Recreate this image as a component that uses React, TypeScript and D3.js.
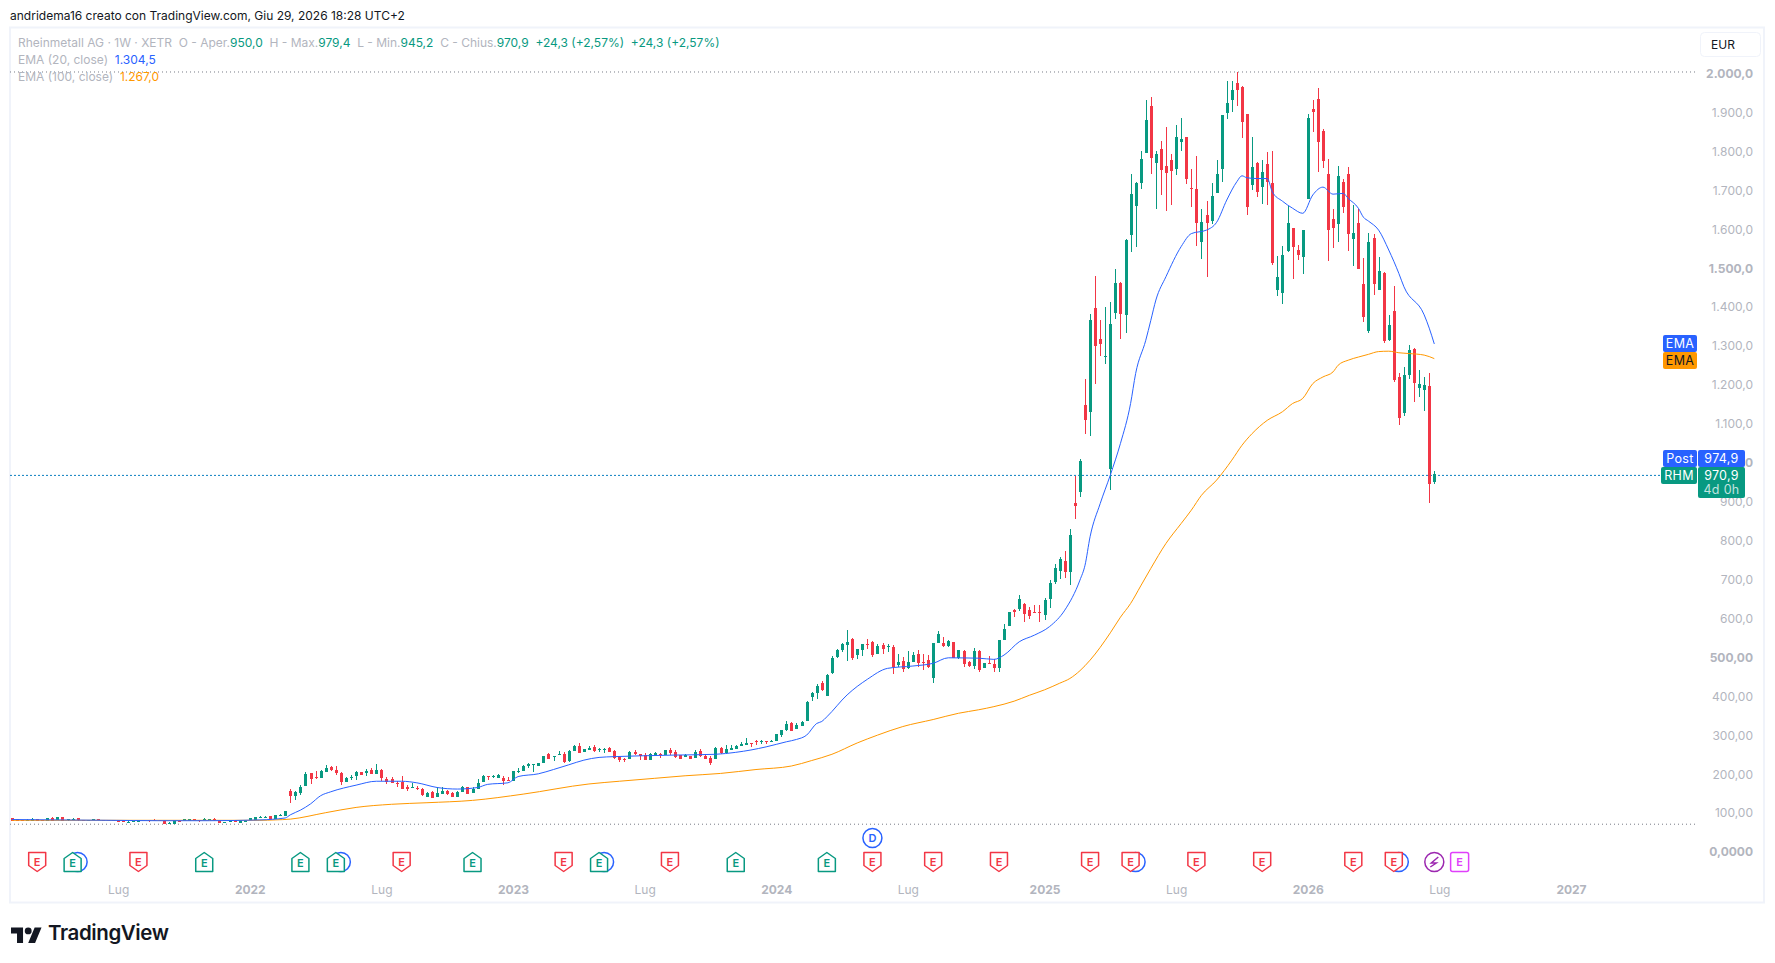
import React, { useEffect, useRef } from 'react';
import * as d3 from 'd3';

// weekly bars, week 1 is the first one visible, week 282 is the live one
const opens = [
  90, 88, 86, 84, 84, 87.5, 86, 84, 90, 86,
  92.6, 85.8, 85.8, 90, 86.6, 84, 85.8, 87.5, 86.6, 85.8,
  85, 85, 84, 79.8, 80.7, 80.7, 85.8, 85.8, 86.6, 86.6,
  84, 76.4, 76.4, 84, 84, 84, 87.5, 86.6, 85, 85.8,
  88.4, 85.8, 79, 81.5, 85, 79, 79.8, 85, 85, 91,
  91, 96, 89, 96, 96, 160, 147.2, 154.9, 172.8, 206,
  195, 193.3, 208.7, 221.5, 213.8, 206, 183, 194.2, 198.4, 208.7,
  206, 213.8, 203.6, 213.8, 190.8, 190.8, 180.5, 183, 170.3, 168.6,
  167.7, 165.2, 144.7, 157.5, 144.7, 152.3, 160, 154.9, 144.7, 157.5,
  170.3, 154.9, 165.2, 183, 198.4, 196.7, 193.3, 193.3, 188, 185.6,
  208.7, 211, 224, 227.4, 224, 231.7, 254.8, 247, 253, 254.8,
  236.8, 262.4, 275.2, 259.9, 265, 272.7, 265.9, 265.9, 270, 262.4,
  247, 242, 242, 259.9, 254.8, 252, 239.4, 249.6, 254.8, 252,
  265, 259.9, 252, 248, 250.5, 244.5, 262.4, 250.5, 245.4, 242,
  271, 257.3, 265, 267.5, 275, 277.8, 283, 288, 284.6, 288,
  286, 288, 303.4, 316, 333.3, 319.6, 326.4, 340, 400.6, 410.9,
  436.5, 403, 462, 503, 521, 533.8, 549, 508, 521, 536,
  541.5, 510.7, 533.8, 529.5, 528.7, 481.7, 492.8, 474, 490.3, 510.7,
  489.4, 495.4, 449.3, 538.9, 539, 531, 541.5, 499.6, 519, 491,
  480, 519, 475, 487.7, 485, 474, 546.6, 582.4, 623.4, 625,
  638.8, 623.4, 618, 619, 610.6, 650.7, 694.7, 723, 748.5, 720,
  897, 925, 1148, 1130, 1396.6, 1317, 1271, 984, 1383.8, 1460.6,
  1378.6, 1583.5, 1657.7, 1716.6, 1793.4, 1913.7, 1767.8, 1803.6, 1760, 1775.5,
  1752.4, 1821.6, 1834.4, 1703.8, 1701.2, 1565.5, 1634.7, 1618.5, 1691, 1752.4,
  1895.8, 1929, 1972.6, 1962.4, 1893, 1711.5, 1767.8, 1706, 1765, 1716.6,
  1442.6, 1435, 1542.5, 1601, 1545, 1527, 1675.6, 1906, 1931.6, 1849.7,
  1739.6, 1624.4, 1611.6, 1719, 1739.6, 1573, 1614, 1458, 1337.7, 1575.8,
  1442.6, 1486, 1314, 1389, 1219.6, 1127.4, 1225, 1291, 1191.4, 1187,
  1196.5, 950,
];
const highs = [
  91, 89, 87, 88, 90, 88, 86, 90, 93, 93,
  93, 87.5, 90, 90, 87, 85.8, 87.5, 88, 87, 86,
  85.8, 85.8, 84.5, 85, 84, 85, 86.6, 86.6, 87.5, 87,
  84.5, 81.5, 85, 85, 87.5, 88.4, 88, 87, 91.8, 87.5,
  91, 86, 81, 85.5, 85.8, 85, 85, 91.5, 93.5, 95,
  95.5, 96.5, 98.6, 101, 108.8, 165.2, 160, 175.4, 208.7, 206,
  211.2, 213, 226.6, 224, 224, 208.7, 195.9, 201, 211.2, 208.7,
  216.4, 218.9, 229, 216.4, 195.9, 195.9, 185.6, 198.4, 175.4, 180.5,
  172.8, 167.7, 157.5, 160, 170.3, 170.3, 162.6, 157.5, 160, 172.8,
  170.3, 170.3, 190.8, 201, 198.4, 201, 203.6, 198.4, 195.9, 211,
  219, 226.6, 231.7, 229, 231.7, 249.6, 257.3, 249.6, 262.4, 259.9,
  265, 277.8, 282.9, 267.6, 275.2, 277.8, 270, 270, 272.7, 265,
  249.6, 245, 262.4, 265, 254.8, 257.3, 257.3, 259.9, 257.3, 265,
  270, 265, 252, 255.6, 250.5, 265, 267.6, 255.6, 249.6, 272.7,
  273.5, 277.8, 277.8, 277.8, 286.3, 295.7, 283, 291, 291.4, 288,
  290.6, 306, 316, 338, 336.7, 333, 340, 389.6, 413.5, 433.9,
  441.6, 459.5, 505.6, 523.5, 538.9, 572, 551.7, 523.5, 536, 549,
  544, 536, 538, 536, 533.8, 510.7, 502, 518.4, 515, 521,
  510.7, 508, 538.9, 569.6, 553, 546.6, 541.5, 521, 521, 493.7,
  526, 521, 488.5, 505.6, 497, 546.6, 587.5, 618, 626.8, 661.8,
  642, 632, 636, 636, 653, 700, 740.8, 758.7, 774, 830,
  966, 1009.6, 1214.5, 1381, 1478, 1366, 1399, 1412, 1496.4, 1463,
  1572.4, 1739.6, 1719, 1798.5, 1929, 1936.8, 1798.5, 1824, 1860, 1790.8,
  1865, 1883, 1834.4, 1752.4, 1785.7, 1650, 1670.5, 1716.6, 1775.5, 1890.7,
  1977.7, 1977.7, 2000.8, 1965, 1893, 1834.4, 1770, 1775.5, 1796, 1798.5,
  1529.7, 1555, 1657.7, 1601, 1558, 1596, 1893, 1929, 1959.8, 1855,
  1778, 1650, 1760, 1727, 1757.6, 1660, 1650, 1524.6, 1588.6, 1586,
  1527, 1489, 1378.6, 1453, 1230, 1245, 1301.5, 1294, 1237, 1219.6,
  1230, 979.4,
];
const lows = [
  84, 84, 84, 84, 83, 84, 84, 84, 84, 86,
  84, 83.2, 85.8, 83, 82.4, 84, 85.8, 85.8, 85, 82.4,
  82, 80, 80.7, 78, 80.7, 80.7, 84, 80.7, 84.9, 85,
  76.4, 76, 76, 81, 84, 84, 84.9, 80.7, 85, 85.8,
  84, 79, 78.5, 81.5, 81.5, 79, 79.8, 85, 85, 91,
  91, 87.5, 89, 96, 96, 129.3, 137, 149.8, 172.8, 177.9,
  190.8, 193.3, 208.7, 211.2, 201, 175.4, 183, 188.2, 188.2, 201,
  198.4, 203.6, 203.6, 185.6, 177.9, 180.5, 170.3, 165.2, 160, 168,
  162.6, 147.2, 144.7, 142.1, 144.7, 152.3, 149.8, 144.7, 144.7, 157.5,
  152.3, 154.9, 165.2, 183, 188.2, 194, 193.3, 175.4, 186, 185.6,
  206, 211, 219, 208.7, 224, 231.7, 242, 236.8, 253, 231.7,
  234.3, 262.4, 257.3, 259.9, 265, 259.9, 259.9, 257.3, 259.9, 242,
  234.3, 235, 242, 252, 239.4, 239.4, 239.4, 249, 244.5, 252,
  252, 244.5, 242, 247, 242, 244.5, 246, 242, 226.6, 242,
  254, 254.7, 265, 267.5, 275, 277.8, 272.7, 277.8, 280, 280,
  285, 288, 299, 313.6, 313.6, 318, 326, 340, 390.4, 395.5,
  416, 403, 459.5, 500.5, 515.9, 492.8, 495.4, 498, 505.6, 523.5,
  503, 510.7, 510.7, 515.9, 459.5, 476.6, 464.7, 471.5, 490, 478,
  469.8, 475, 437, 538.9, 529.5, 529.5, 499.6, 499, 478, 477.4,
  473, 464.7, 475, 486, 465.5, 465.5, 546.6, 582.4, 606, 621.7,
  592.7, 599.5, 616, 592, 597.8, 627.7, 689.6, 702.4, 705, 687,
  856, 912, 1073.6, 1068.5, 1201.6, 1273, 1253, 930, 1368, 1317,
  1332.6, 1540, 1552.8, 1701, 1793.4, 1739.6, 1650, 1686, 1645, 1660,
  1737, 1798.5, 1714, 1655, 1555, 1522, 1476, 1611.6, 1691, 1719,
  1880.5, 1898.4, 1913.7, 1831.8, 1634.7, 1698.7, 1680.8, 1662.8, 1660, 1506.7,
  1427, 1406.8, 1540, 1471, 1519, 1483.6, 1675.6, 1847, 1744.8, 1755,
  1517, 1550, 1565.5, 1640, 1542.5, 1504, 1496, 1360.7, 1332.6, 1430,
  1442, 1306.6, 1311.7, 1207, 1097, 1120, 1214.5, 1155, 1168, 1133,
  898, 945.2,
];
const closes = [
  84, 84, 84, 86, 87.5, 84, 84, 90, 84, 92.6,
  84, 87.5, 87.5, 85, 85, 85.8, 87.5, 85.8, 85, 83.2,
  82.4, 81.5, 80.7, 81.5, 84, 85, 84, 84, 85, 85,
  76.4, 79, 85, 82, 87.5, 88.4, 85, 83.2, 88.4, 87.5,
  85, 79, 80.7, 85, 81.5, 85, 85, 90, 93.5, 93.5,
  93.5, 87.5, 98.6, 98.6, 108.8, 147.2, 157.5, 170.3, 203.6, 190.8,
  193.3, 211.2, 218.9, 213.8, 206, 183, 193.3, 195.9, 208.7, 201,
  211.2, 203.6, 213.8, 193.3, 183, 180.5, 178.8, 165.2, 165.2, 170.3,
  165.2, 149.8, 154.9, 142.1, 154.9, 160, 152.3, 144.7, 157.5, 170.3,
  152.3, 165.2, 180.5, 198.4, 195.9, 198.4, 201, 185.6, 186.5, 211,
  211, 224, 229, 229, 231.7, 249.6, 242, 249.6, 254.8, 234.3,
  262.4, 275.2, 257.3, 267.6, 270, 262.4, 267.6, 267.6, 259.9, 244.5,
  239.4, 240, 259.9, 254.8, 249.6, 239.4, 254.8, 257.3, 252, 265,
  257.3, 247, 242, 252, 242, 259.9, 248.8, 242, 231.7, 271,
  256.5, 267.5, 270, 275, 281, 283, 281, 286, 287, 286,
  288, 306, 316, 331.5, 314.5, 329.8, 337.5, 387.9, 410.9, 428.8,
  418.6, 457, 500.5, 521, 536, 541.5, 500.5, 523.5, 536, 534,
  508, 531, 523.5, 531, 477.5, 490.3, 472.3, 490.3, 508, 486.8,
  487.7, 478.3, 538.9, 561.9, 531, 543, 499.6, 521, 485, 480,
  518.4, 469.8, 488.5, 486, 474, 546.6, 574, 618, 618, 650.7,
  613, 608.9, 616.6, 615, 649, 693, 730.5, 753.6, 720, 815,
  889.3, 1004.5, 1109.5, 1365.9, 1299, 1304, 1274, 1355.6, 1460.6, 1381,
  1570.7, 1688.4, 1716.6, 1778, 1877.9, 1780.6, 1791, 1750, 1742, 1747,
  1834.4, 1829.3, 1726.8, 1701, 1614, 1616.8, 1614, 1683.3, 1739.6, 1890.7,
  1921.4, 1954.7, 1954.7, 1872.8, 1655, 1757.6, 1693.5, 1744.8, 1719, 1511.8,
  1476, 1532, 1614, 1553, 1532, 1596, 1883, 1898.4, 1821.6, 1773,
  1596, 1601.4, 1734.5, 1655, 1586, 1588.6, 1496.4, 1373.5, 1565.5, 1458,
  1491, 1311.7, 1353, 1212, 1114.6, 1225, 1289, 1204, 1201.6, 1199,
  946, 970.9,
];

// EMA lines
const ema20Weeks = [1, 10, 20, 30, 40, 50, 55, 56, 58, 60, 62, 64, 69, 73, 78, 81, 85, 89, 93, 95, 99, 101, 105, 108, 111, 114, 117, 120, 125, 132, 140, 144, 147, 150, 154, 156, 158, 160, 161, 162, 166, 170, 174, 179, 183, 186, 192, 195, 197, 200, 203, 206, 209, 212, 213, 214, 216, 218, 220, 222, 223, 225, 226, 227, 229, 232, 234, 237, 239, 241, 243, 244, 245, 247, 249, 250, 252, 254, 256, 258, 260, 262, 264, 265, 267, 268, 269, 271, 273, 275, 276, 280, 281, 282];
const ema20Values = [87, 86, 85, 84, 84, 86, 91, 99, 111, 127, 148, 158, 175, 185, 185, 181, 169, 165, 169, 177, 181, 197, 204, 215, 227, 239, 246, 248, 250, 252, 254, 259, 265, 273, 286, 292, 303, 333, 338, 350, 406, 446, 474, 480, 487, 501, 500, 497, 508, 542, 559, 581, 623, 700, 738, 811, 896, 969, 1050, 1152, 1229, 1314, 1365, 1417, 1477, 1554, 1587, 1596, 1616, 1673, 1720, 1735, 1730, 1728, 1728, 1694, 1670, 1652, 1639, 1686, 1706, 1688, 1690, 1677, 1652, 1629, 1619, 1596, 1545, 1485, 1451, 1379, 1345, 1304.5];
const ema100Weeks = [1, 50, 53, 56, 63, 69, 76, 83, 92, 102, 115, 121, 128, 134, 141, 148, 155, 159, 163, 168, 172, 177, 183, 188, 192, 195, 199, 202, 205, 208, 210, 212, 214, 218, 220, 222, 224, 226, 229, 232, 234, 236, 239, 242, 244, 246, 249, 252, 254, 256, 258, 260, 262, 263, 265, 267, 269, 271, 273, 275, 277, 280, 282];
const ema100Values = [85, 85, 86, 88, 104.5, 118, 126, 130, 136, 152, 178, 185, 192.5, 199, 205, 215, 224, 238, 254, 283, 303, 325, 343, 359, 368, 376, 390, 405, 419, 436, 448, 468, 495, 565, 605, 640, 685, 730, 794, 845, 879, 917, 956, 1007, 1045, 1075, 1109, 1131, 1152, 1165, 1203, 1220, 1233, 1250, 1263, 1271, 1278, 1285, 1286, 1282, 1280, 1276, 1267];

const priceTicks = [0, 100, 200, 300, 400, 500, 600, 700, 800, 900, 1000, 1100, 1200, 1300, 1400, 1500, 1600, 1700, 1800, 1900, 2000];
const priceTickLabels = ['0,0000', '100,00', '200,00', '300,00', '400,00', '500,00', '600,0', '700,0', '800,0', '900,0', '1.000,0', '1.100,0', '1.200,0', '1.300,0', '1.400,0', '1.500,0', '1.600,0', '1.700,0', '1.800,0', '1.900,0', '2.000,0'];
const boldPrices = [0, 500, 1000, 1500, 2000];

const timeTickWeeks = [22, 48, 74, 100, 126, 152, 178, 205, 231, 257, 283, 309];
const timeTickLabels = ['Lug', '2022', 'Lug', '2023', 'Lug', '2024', 'Lug', '2025', 'Lug', '2026', 'Lug', '2027'];

// events row, by week
const earningsMissWeeks = [6, 26, 78, 110, 131, 171, 183, 196, 214, 222, 235, 248, 266, 274];
const earningsBeatWeeks = [13, 39, 58, 65, 92, 117, 144, 162];
const splitArcWeeks = [13, 65, 117, 222, 274];
const nextEarningsWeek = 287;
const flashWeek = 282;
const dividendWeek = 171;

const FONT = 'Inter, "Noto Sans", sans-serif';
const GREEN = '#089981';
const RED = '#f23645';
const BLUE = '#2962ff';
const ORANGE = '#ff9800';
const GRAY = '#b2b5be';

export default function App() {
  const ref = useRef<SVGSVGElement>(null);

  useEffect(() => {
    const svg = d3.select(ref.current!);
    svg.selectAll('*').remove();
    svg.style('font-family', FONT);

    const x = d3.scaleLinear().domain([1, 282]).range([1434.3 - 281 * 5.062, 1434.3]);
    const y = d3.scaleLinear().domain([0, 2000]).range([853.5, 72.3]);
    // tick labels sit on a slightly tighter scale than the values
    const yTicks = d3.scaleLinear().domain([0, 2000]).range([852, 73.6]);

    // frame
    svg.append('rect').attr('x', 10).attr('y', 27.5).attr('width', 1754).attr('height', 875)
      .attr('fill', 'none').attr('stroke', '#f0f3fa').attr('stroke-width', 2);

    svg.append('text').attr('x', 10).attr('y', 20).attr('font-size', 12).attr('fill', '#131722')
      .text('andridema16 creato con TradingView.com, Giu 29, 2026 18:28 UTC+2');

    // price axis
    const yAxis = d3.axisLeft(yTicks).tickValues(priceTicks).tickSize(0).tickPadding(0)
      .tickFormat((_d, i) => priceTickLabels[i]);
    const yG = svg.append('g').attr('transform', 'translate(1753,0)').call(yAxis);
    yG.select('.domain').remove();
    yG.selectAll('text').attr('fill', GRAY).attr('font-size', 12).attr('font-family', FONT)
      .attr('font-weight', (d: any) => (boldPrices.includes(d) ? 700 : 400));

    // time axis
    const xAxis = d3.axisBottom(x).tickValues(timeTickWeeks).tickSize(0).tickPadding(0)
      .tickFormat((_d, i) => timeTickLabels[i]);
    const xG = svg.append('g').attr('transform', 'translate(0,885)').call(xAxis);
    xG.select('.domain').remove();
    xG.selectAll('text').attr('fill', GRAY).attr('font-size', 12).attr('font-family', FONT)
      .attr('font-weight', (_d: any, i: number) => (timeTickLabels[i] === 'Lug' ? 400 : 700));

    // high / low of the visible range
    [2000.8, 75].forEach((p) => {
      svg.append('line').attr('x1', 10).attr('x2', 1697).attr('y1', y(p)).attr('y2', y(p))
        .attr('stroke', '#787b86').attr('stroke-dasharray', '1 3');
    });

    // last price line
    svg.append('line').attr('x1', 10).attr('x2', 1661).attr('y1', y(968)).attr('y2', y(968))
      .attr('stroke', '#0b7fc0').attr('stroke-dasharray', '2 2');

    // candles
    const weeks = d3.range(1, opens.length + 1);
    const candles = svg.append('g').attr('shape-rendering', 'crispEdges');
    candles.selectAll('line').data(weeks).enter().append('line')
      .attr('x1', (w) => Math.round(x(w)) + 0.5)
      .attr('x2', (w) => Math.round(x(w)) + 0.5)
      .attr('y1', (w) => y(highs[w - 1]))
      .attr('y2', (w) => y(lows[w - 1]))
      .attr('stroke', (w) => (closes[w - 1] >= opens[w - 1] ? GREEN : RED));
    candles.selectAll('rect').data(weeks).enter().append('rect')
      .attr('x', (w) => Math.round(x(w)) - 1)
      .attr('width', 3)
      .attr('y', (w) => y(Math.max(opens[w - 1], closes[w - 1])))
      .attr('height', (w) => Math.max(1, Math.abs(y(opens[w - 1]) - y(closes[w - 1]))))
      .attr('fill', (w) => (closes[w - 1] >= opens[w - 1] ? GREEN : RED));

    // EMA lines
    const line = d3.line<[number, number]>().x((d) => x(d[0])).y((d) => y(d[1])).curve(d3.curveMonotoneX);
    svg.append('path').attr('d', line(ema100Weeks.map((w, i) => [w, ema100Values[i]]))!)
      .attr('fill', 'none').attr('stroke', ORANGE).attr('stroke-width', 1);
    svg.append('path').attr('d', line(ema20Weeks.map((w, i) => [w, ema20Values[i]]))!)
      .attr('fill', 'none').attr('stroke', BLUE).attr('stroke-width', 1);

    // legend
    const legend = svg.append('g').attr('font-size', 12);
    const row1 = legend.append('text').attr('x', 18).attr('y', 47).style('white-space', 'pre');
    const parts: [string, string][] = [
      ['Rheinmetall AG · 1W · XETR  O - Aper.', GRAY], ['950,0', GREEN],
      ['  H - Max.', GRAY], ['979,4', GREEN],
      ['  L - Min.', GRAY], ['945,2', GREEN],
      ['  C - Chius.', GRAY], ['970,9', GREEN],
      ['  +24,3 (+2,57%)  +24,3 (+2,57%)', GREEN],
    ];
    parts.forEach(([t, c]) => row1.append('tspan').attr('fill', c).text(t));
    const row2 = legend.append('text').attr('x', 18).attr('y', 64).style('white-space', 'pre');
    row2.append('tspan').attr('fill', GRAY).text('EMA (20, close)  ');
    row2.append('tspan').attr('fill', BLUE).text('1.304,5');
    const row3 = legend.append('text').attr('x', 18).attr('y', 81).style('white-space', 'pre');
    row3.append('tspan').attr('fill', GRAY).text('EMA (100, close)  ');
    row3.append('tspan').attr('fill', ORANGE).text('1.267,0');

    // currency box
    svg.append('rect').attr('x', 1700.5).attr('y', 32.5).attr('width', 60).attr('height', 24).attr('rx', 4)
      .attr('fill', '#fff').attr('stroke', '#f0f3fa');
    svg.append('text').attr('x', 1711).attr('y', 48.5).attr('font-size', 12).attr('fill', '#131722').text('EUR');

    // price labels
    const label = (lx: number, ly: number, w: number, h: number, fill: string) =>
      svg.append('rect').attr('x', lx).attr('y', ly).attr('width', w).attr('height', h).attr('rx', 2).attr('fill', fill);
    const labelText = (tx: number, ty: number, t: string, fill: string, op = 1) =>
      svg.append('text').attr('x', tx).attr('y', ty).attr('text-anchor', 'middle').attr('font-size', 12.5)
        .attr('letter-spacing', 0.3).attr('fill', fill).attr('fill-opacity', op).text(t);
    label(1663, 335, 34, 17, BLUE); labelText(1680, 348, 'EMA', '#fff');
    label(1663, 352, 34, 17, ORANGE); labelText(1680, 365, 'EMA', '#131722');
    label(1663, 450, 34, 17, BLUE); labelText(1680, 463, 'Post', '#fff');
    label(1698, 450, 47, 17, BLUE); labelText(1721.5, 463, '974,9', '#fff');
    label(1661, 467, 36, 17, GREEN); labelText(1679, 480, 'RHM', '#fff');
    label(1698, 467, 47, 31, GREEN); labelText(1721.5, 480, '970,9', '#fff');
    labelText(1721.5, 494, '4d 0h', '#fff', 0.75);

    // events row
    const ev = svg.append('g');
    const EY = 862;
    const letter = (cx: number, cy: number, t: string, fill: string) =>
      ev.append('text').attr('x', cx).attr('y', cy).attr('text-anchor', 'middle')
        .attr('font-size', 11).attr('font-weight', 600).attr('fill', fill).text(t);

    splitArcWeeks.forEach((w) => {
      ev.append('circle').attr('cx', x(w) + 5).attr('cy', EY).attr('r', 9.5)
        .attr('fill', '#fff').attr('stroke', BLUE).attr('stroke-width', 1.5);
    });
    earningsMissWeeks.forEach((w) => {
      const cx = x(w);
      ev.append('path').attr('d', `M${cx - 8.5},${EY - 9.5}h17v13l-8.5,6l-8.5,-6z`)
        .attr('fill', '#fff').attr('stroke', RED).attr('stroke-width', 1.5).attr('stroke-linejoin', 'round');
      letter(cx, EY + 4, 'E', RED);
    });
    earningsBeatWeeks.forEach((w) => {
      const cx = x(w);
      ev.append('path').attr('d', `M${cx - 8.5},${EY + 9.5}h17v-13l-8.5,-6l-8.5,6z`)
        .attr('fill', '#fff').attr('stroke', GREEN).attr('stroke-width', 1.5).attr('stroke-linejoin', 'round');
      letter(cx, EY + 5, 'E', GREEN);
    });

    const nx = x(nextEarningsWeek);
    ev.append('rect').attr('x', nx - 9).attr('y', EY - 9.5).attr('width', 18).attr('height', 19).attr('rx', 2)
      .attr('fill', '#fff').attr('stroke', '#e040fb').attr('stroke-width', 1.5);
    letter(nx, EY + 4, 'E', '#e040fb');

    const fx = x(flashWeek);
    ev.append('circle').attr('cx', fx).attr('cy', EY).attr('r', 9.5).attr('fill', '#fff')
      .attr('stroke', '#9c27b0').attr('stroke-width', 1.5);
    ev.append('path').attr('d', `M${fx + 4},${EY - 5}L${fx - 3},${EY + 1}H${fx + 2}L${fx - 4},${EY + 5}`)
      .attr('fill', 'none').attr('stroke', '#9c27b0').attr('stroke-width', 1.5);

    const dx = x(dividendWeek);
    ev.append('circle').attr('cx', dx).attr('cy', 838).attr('r', 9.5).attr('fill', '#fff')
      .attr('stroke', BLUE).attr('stroke-width', 1.5);
    letter(dx, 842, 'D', BLUE);

    // logo
    const logo = svg.append('g').attr('transform', 'translate(11,924) scale(0.86)').attr('fill', '#131722');
    logo.append('path').attr('d', 'M14 22H7V11H0V4h14v18zM28 22h-8l7.5-18h8L28 22z');
    logo.append('circle').attr('cx', 20).attr('cy', 8).attr('r', 4);
    svg.append('text').attr('x', 48).attr('y', 940).attr('font-size', 20.5).attr('font-weight', 600)
      .attr('letter-spacing', -0.4).attr('fill', '#131722').text('TradingView');
  }, []);

  return <svg ref={ref} width={1775} height={963} style={{ position: 'absolute', left: 0, top: 0 }} />;
}
